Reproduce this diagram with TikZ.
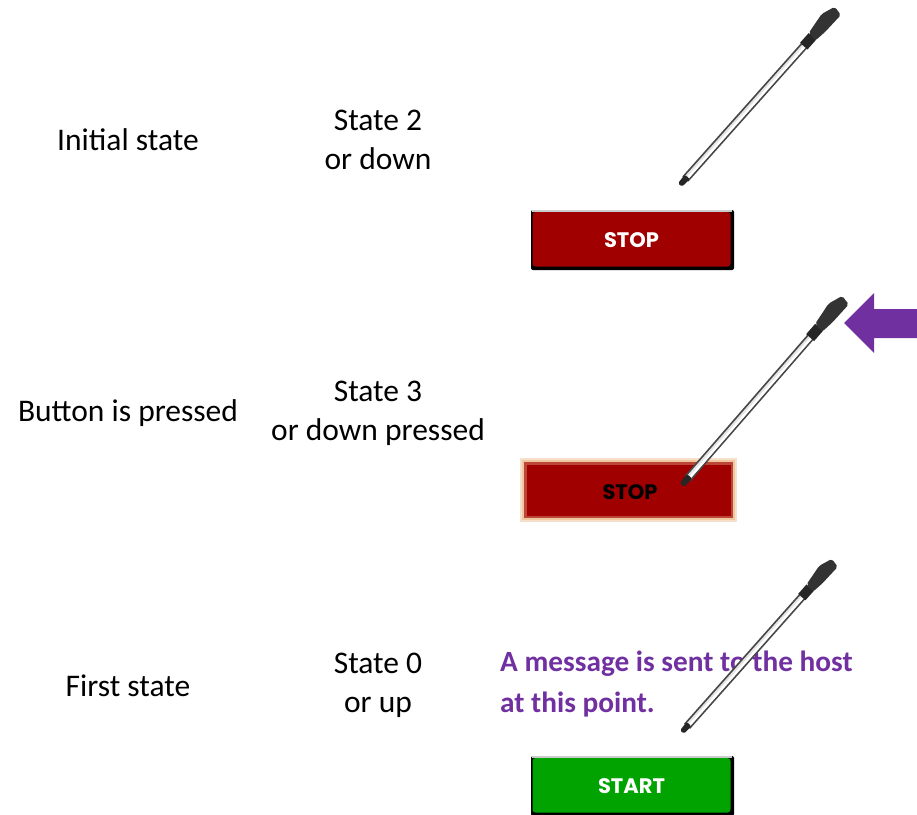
\documentclass[tikz,border=0pt]{standalone}
\usepackage{fontspec}
\setmainfont{Carlito}
\newfontfamily\btnfont{Poppins}
\definecolor{notepurple}{HTML}{7030A0}
\definecolor{stopred}{HTML}{A00000}
\definecolor{startgreen}{HTML}{00A300}
\definecolor{glowtan}{HTML}{EFC7A0}
\begin{document}
\begin{tikzpicture}[x=1pt,y=1pt,
  caption/.style={font=\fontsize{31.5}{39}\selectfont, align=center, inner sep=0},
  note/.style={font=\bfseries\fontsize{29.3}{40}\selectfont, text=notepurple, inner sep=0, anchor=base west},
  btntext/.style={font=\btnfont\bfseries\fontsize{21}{21}\selectfont, inner sep=0},
  stylus/.pic={
    % metal shaft
    \draw[line width=8, gray!55!black] (8,0) -- (190,0);
    \draw[line width=4.5, gray!20] (9,0) -- (189,0);
    \draw[line width=2.2, white] (10,-1) -- (188,-1);
    % pen point
    \fill[black!85, rounded corners=1.5] (0,-2.6) -- (11,-3.4) -- (11,3.4) -- (0,2.6) -- cycle;
    % collar
    \fill[black!85] (186,-5) rectangle (199,5);
    % top cap
    \fill[black!80, rounded corners=2] (198,-5) -- (199,5) -- (222,8) -- (236,3) -- (234,-7) -- (211,-6.5) -- cycle;
  }]
\useasboundingbox (0,0) rectangle (917,-814);

% row captions
\node[caption] (initial) at (128,-140) {Initial state};
\node[caption] (state2) at (378,-140) {State 2\\or down};
\node[caption] (pressed) at (128,-413) {Button is pressed};
\node[caption] (state3) at (378,-413) {State 3\\or down pressed};
\node[caption] (first) at (128,-686) {First state};
\node[caption] (state0) at (378,-685) {State 0\\or up};

% STOP button, idle
\fill[black, rounded corners=2] (531,-210) rectangle (734,-270);
\fill[gray!40] (532,-210) rectangle (732,-212);
\fill[stopred, rounded corners=3] (532.5,-212) rectangle (730.5,-266.5);
\node[btntext, text=white] (stop1) at (631.5,-240) {STOP};

% STOP button, pressed
\fill[glowtan!55] (520,-458) rectangle (737,-522);
\fill[glowtan] (522,-460) rectangle (735,-520);
\fill[stopred!65!glowtan] (524,-462) rectangle (733,-518);
\fill[stopred] (526.5,-464.5) rectangle (730.5,-515.5);
\node[btntext, text=black] (stop2) at (630,-492) {STOP};

% START button
\fill[black, rounded corners=2] (531,-756) rectangle (734,-816);
\fill[gray!40] (532,-756) rectangle (732,-758);
\fill[startgreen, rounded corners=3] (532.5,-758) rectangle (730.5,-812.5);
\node[btntext, text=white] (start) at (631.5,-786) {START};

% note about the host message
\node[note] (msg1) at (500,-671) {A message is sent to the host};
\node[note] (msg2) at (500,-712) {at this point.};

% styluses
\pic (pen1) [rotate=48.3] at (680,-185) {stylus};
\pic (pen2) [rotate=49, scale=1.05] at (682,-485) {stylus};
\pic (pen3) [rotate=48.4, scale=0.97] at (682,-732) {stylus};

% pointer arrow at the pressed stylus
\coordinate (arrowtip) at (844,-323);
\fill[notepurple] (arrowtip) -- (874,-293) -- (874,-309) -- (917,-309)
  -- (917,-338) -- (874,-338) -- (874,-353) -- cycle;
\end{tikzpicture}
\end{document}
